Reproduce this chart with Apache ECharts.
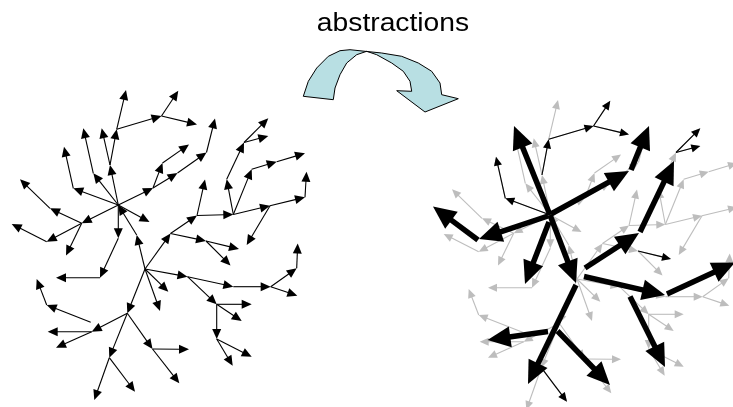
<!DOCTYPE html>
<html><head><meta charset="utf-8">
<script src="https://cdn.jsdelivr.net/npm/echarts@6/dist/echarts.min.js"></script>
<style>html,body{margin:0;padding:0;background:#fff}#c{width:733px;height:407px}</style>
</head><body><div id="c"></div>
<script>
// Tree nodes (left drawing): [name, x, y]
const treeNodes = [
  ['A',118.3,205],['B',73.3,188.3],['B1',64,146.7],['C',93.3,173.3],['C1',83.3,128.3],
  ['D',110,165],['D1',101.7,128.3],['E',116.7,129.3],['E1',126,90],['F',161.5,116],
  ['F1',178.3,90.7],['F2',197,124.5],['J',153,188],['K',162.5,163],['L',189,144.5],
  ['M',177.5,173],['N',206.5,152.5],['O',215,118.5],['P',149.5,222],['Q',118.3,238.3],
  ['R',100,277.7],['S',56,277.7],['T',81.7,223.3],['U',50,208.3],['V',20,179.3],
  ['W',46.7,241.7],['X',11.7,224],['Y',66,255.5],['H2',145,269],['X1',136.7,235],
  ['Z1',170.5,233.5],['Z2',197,215.5],['Z2a',205,179.5],['Z3',233.3,214.5],['Z3a',226.7,179.3],
  ['Z3b',244,142.5],['Z3b1',268.3,118.3],['Z3b2',268.3,136],['Z4',251.7,169.3],['Z4a',276.7,161.7],
  ['Z4b',305,153.3],['Z6',270,205.7],['Z6a',305,197.3],['Z6b',306.5,171.7],['Z6c',246.7,245],
  ['Z5',206,241],['Z5a',239,249],['Z5b',230.5,265.5],['Y1',187.5,276.7],['Y2',233.3,286.7],
  ['Y3',270.7,286.7],['Y4',296.7,268.3],['Y4a',297.7,243.5],['Y3b',297.3,295.7],['Y5',216.7,304.3],
  ['Y5a',251.7,304.3],['Y5b',241.7,321],['Y6',216.7,339],['Y6a',251.7,356.7],['Y6b',232.7,365.7],
  ['H2a',168.3,291.7],['H2b',160,311],['H3',127.3,313.3],['H4',91.7,331.7],['H4a',47.7,331.7],
  ['H4b',56,347.7],['H5s',90.7,322.3],['H5',46.7,305],['H5a',36.7,279],['H6',109.3,357.7],
  ['H6a',94.3,400],['H6b',135,391.7],['G2',152.5,349],['G2a',189,349.3],['G2b',179.3,383.3]
];
// Tree edges: [from, to]
const treeEdges = [
  ['A','B'],['B','B1'],['A','C'],['C','C1'],['A','D'],['D','D1'],['D','E'],['E','E1'],['E','F'],
  ['F','F1'],['F','F2'],['A','J'],['J','K'],['K','L'],['J','M'],['M','N'],['N','O'],['A','P'],
  ['A','Q'],['Q','R'],['R','S'],['A','T'],['T','U'],['U','V'],['T','W'],['W','X'],['T','Y'],
  ['H2','X1'],['X1','A'],['H2','Z1'],['Z1','Z2'],['Z2','Z2a'],['Z2','Z3'],['Z3','Z3a'],['Z3a','Z3b'],
  ['Z3b','Z3b1'],['Z3b','Z3b2'],['Z3','Z4'],['Z4','Z4a'],['Z4a','Z4b'],['Z3','Z6'],['Z6','Z6a'],
  ['Z6a','Z6b'],['Z6','Z6c'],['Z1','Z5'],['Z5','Z5a'],['Z5','Z5b'],['H2','Y1'],['Y1','Y2'],
  ['Y2','Y3'],['Y3','Y4'],['Y4','Y4a'],['Y3','Y3b'],['Y1','Y5'],['Y5','Y5a'],['Y5','Y5b'],
  ['Y5','Y6'],['Y6','Y6a'],['Y6','Y6b'],['H2','H2a'],['H2','H2b'],['H2','H3'],['H3','H4'],
  ['H4','H4a'],['H4','H4b'],['H5s','H5'],['H5','H5a'],['H3','H6'],['H6','H6a'],['H6','H6b'],
  ['H3','G2'],['G2','G2a'],['G2','G2b']
];
// Edges kept in black in the abstracted copy
const keptEdges = [
  ['A','B'],['B','B1'],['D','E'],['E','F'],['F','F1'],['F','F2'],
  ['Z3b','Z3b1'],['Z3b','Z3b2'],['Z5','Z5a'],['H6','H6b']
];
// Shift of the abstracted copy
const copyShift = [432, 10];
// Abstraction arrows: [x1, y1, x2, y2]
const abstractArrows = [
  [550,215,514,126],[550,215,576,283],[548,216,479,239],[478,240,433,206.5],
  [551,214,629,171],[631,170,649,126],[585,268,639,233],[640,232,674,161],
  [584,276.5,665,295],[667,294,735,262.5],[630,296.5,665,367],[557.5,331,610,385],
  [576,285,528,384],[548,331.5,487.5,340],[549,222,525,284]
];
// Curved block arrow outline
const curveOutline = [
  [303.3,96.3],[308.3,81.3],[316.7,68],[328.3,56.3],[340,50.7],[350,49.7],[365,51.3],
  [381.7,53],[401.7,56.3],[418.3,63],[431.7,71.3],[440,83],[441.7,94.7],[458.3,98.7],
  [425,112],[396.7,90.7],[411.7,91.3],[410,81.3],[403.3,71.3],[391.7,63],[376.7,54.7],
  [366.7,51.3],[356.7,54.7],[346.7,63],[340,74.7],[335,88],[333.3,99.7]
];
const titleText = 'abstractions';

const pos = {};
treeNodes.forEach(n => { pos[n[0]] = [n[1], n[2]]; });
const segs = (list, dx, dy) => list.map(e => [pos[e[0]][0]+dx, pos[e[0]][1]+dy, pos[e[1]][0]+dx, pos[e[1]][1]+dy]);

function makeArrowRenderer(lw, headLen, headW, color) {
  return function (params, api) {
    const p1 = api.coord([api.value(0), api.value(1)]);
    const p2 = api.coord([api.value(2), api.value(3)]);
    const dx = p2[0]-p1[0], dy = p2[1]-p1[1];
    const len = Math.hypot(dx, dy) || 1;
    const ux = dx/len, uy = dy/len, px = -uy, py = ux;
    const hl = Math.min(headLen, len);
    const bx = p2[0]-ux*hl, by = p2[1]-uy*hl;
    return { type: 'group', children: [
      { type: 'line', shape: { x1: p1[0], y1: p1[1], x2: bx+ux, y2: by+uy },
        style: { stroke: color, lineWidth: lw } },
      { type: 'polygon', shape: { points: [[p2[0],p2[1]],[bx+px*headW/2,by+py*headW/2],[bx-px*headW/2,by-py*headW/2]] },
        style: { fill: color } }
    ]};
  };
}

const chart = echarts.init(document.getElementById('c'), null, { renderer: 'canvas' });
chart.setOption({
  animation: false,
  backgroundColor: '#ffffff',
  grid: { left: 0, right: 0, top: 0, bottom: 0 },
  xAxis: { type: 'value', min: 0, max: 733, show: false },
  yAxis: { type: 'value', min: 0, max: 407, inverse: true, show: false },
  graphic: [{
    type: 'text', x: 393, y: 24.5, scaleX: 1.13, originX: 0, z: 100,
    style: { text: titleText, font: '25px "Liberation Sans", Arial, sans-serif', fill: '#000',
             align: 'center', verticalAlign: 'middle' }
  }],
  series: [
    { type: 'custom', name: 'curve', data: [[0,0]], silent: true, clip: false,
      renderItem: function (params, api) {
        return { type: 'polygon', shape: { points: curveOutline.map(p => api.coord(p)) },
                 style: { fill: '#b8dfe3', stroke: '#000', lineWidth: 1 } };
      } },
    { type: 'custom', name: 'tree', data: segs(treeEdges, 0, 0), silent: true,
      renderItem: makeArrowRenderer(1.1, 10, 9, '#000') },
    { type: 'custom', name: 'copy', data: segs(treeEdges, copyShift[0], copyShift[1]), silent: true,
      renderItem: makeArrowRenderer(1.1, 9, 8, '#bdbdbd') },
    { type: 'custom', name: 'kept', data: segs(keptEdges, copyShift[0], copyShift[1]), silent: true,
      renderItem: makeArrowRenderer(1.1, 9, 8, '#000') },
    { type: 'custom', name: 'abstract', data: abstractArrows, silent: true,
      renderItem: makeArrowRenderer(5.5, 23, 21, '#000') }
  ]
});
</script></body></html>
